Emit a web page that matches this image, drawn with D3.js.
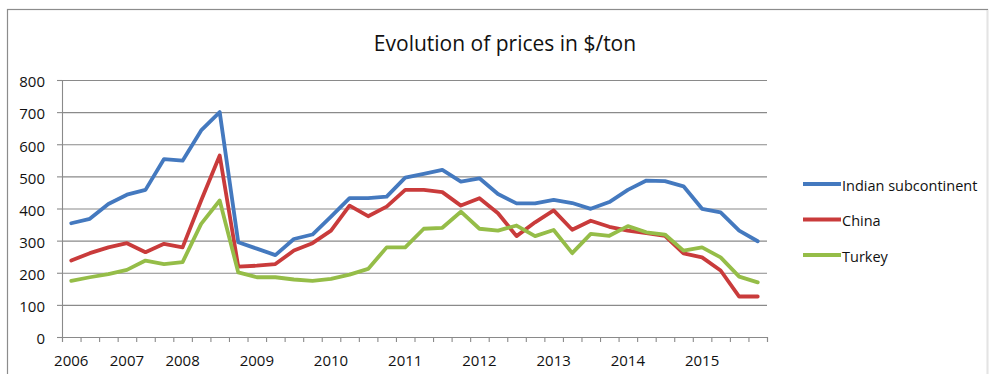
<!DOCTYPE html>
<html>
<head>
<meta charset="utf-8">
<script src="https://cdn.jsdelivr.net/npm/d3@7"></script>
<style>
  html, body { margin: 0; padding: 0; background: #fff; }
  svg { display: block; font-family: "Open Sans", "Noto Sans", sans-serif; }
</style>
</head>
<body>
<svg id="chart" width="990" height="374"></svg>
<script>
// Category axis: one entry per observation, year shown at the first point of each year
const categories = [
  "2006", "", "",
  "2007", "", "",
  "2008", "", "", "",
  "2009", "", "", "",
  "2010", "", "", "",
  "2011", "", "", "",
  "2012", "", "", "",
  "2013", "", "", "",
  "2014", "", "", "",
  "2015", "", "", ""
];

// Prices in $/ton
const indianSubcontinent = [354, 368, 414, 443, 458, 554, 549, 643, 700, 295, 275, 255, 305, 319, 375, 432, 432, 437, 496, 508, 520, 484, 494, 445, 416, 416, 427, 417, 399, 420, 458, 487, 485, 469, 399, 388, 331, 298];
const china = [238, 261, 279, 292, 264, 290, 279, 425, 565, 219, 222, 227, 269, 292, 331, 409, 376, 406, 458, 458, 451, 409, 432, 385, 314, 357, 394, 334, 362, 343, 331, 323, 315, 260, 248, 207, 126, 126];
const turkey = [175, 186, 196, 209, 238, 227, 233, 352, 425, 201, 186, 186, 179, 175, 181, 194, 212, 279, 279, 337, 340, 390, 337, 331, 347, 314, 333, 261, 321, 315, 345, 326, 319, 269, 279, 248, 188, 170];

const seriesNames = ["Indian subcontinent", "China", "Turkey"];
const yTicks = [0, 100, 200, 300, 400, 500, 600, 700, 800];
const title = "Evolution of prices in $/ton";

const series = [
  { name: seriesNames[0], values: indianSubcontinent, color: "#4479bf" },
  { name: seriesNames[1], values: china, color: "#c93b3b" },
  { name: seriesNames[2], values: turkey, color: "#95bd48" }
];

const svg = d3.select("#chart");
const plot = { left: 62, right: 767, top: 80, bottom: 337 };

// Outer chart frame
svg.append("rect")
  .attr("x", 7.5).attr("y", 9.5)
  .attr("width", 980).attr("height", 400)
  .attr("fill", "none").attr("stroke", "#8c8c8c").attr("stroke-width", 1.2);
svg.append("line")
  .attr("x1", 987.5).attr("x2", 987.5).attr("y1", 10).attr("y2", 374)
  .attr("stroke", "#e4e4e4").attr("stroke-width", 1.5);

const idx = categories.map((_, i) => i);
const x = d3.scaleBand().domain(idx).range([plot.left, plot.right]).paddingInner(0).paddingOuter(0);
const xEdges = d3.scaleLinear().domain([0, categories.length]).range([plot.left, plot.right]);
const y = d3.scaleLinear().domain([0, 800]).range([plot.bottom, plot.top]);

// Horizontal gridlines with outward tick marks
const grid = svg.append("g")
  .attr("transform", `translate(${plot.left},0)`)
  .call(d3.axisLeft(y).tickValues(yTicks).tickSize(-(plot.right - plot.left)).tickFormat(""));
grid.select(".domain").remove();
grid.selectAll("line").attr("stroke", "#8a8a8a").attr("stroke-width", 1.1);

const yAxis = svg.append("g")
  .attr("transform", `translate(${plot.left},0)`)
  .call(d3.axisLeft(y).tickValues(yTicks).tickSize(5).tickPadding(12));
yAxis.select(".domain").attr("stroke", "#8a8a8a").attr("stroke-width", 1.1);
yAxis.selectAll("line").attr("stroke", "#8a8a8a").attr("stroke-width", 1.1);
yAxis.selectAll("text")
  .attr("font-size", 15).attr("fill", "#111")
  .attr("font-family", "'Open Sans', sans-serif")
  .attr("dy", "0.45em");

// Category tick marks between observations
const xTickAxis = svg.append("g")
  .attr("transform", `translate(0,${plot.bottom})`)
  .call(d3.axisBottom(xEdges).tickValues(d3.range(categories.length + 1)).tickSize(5).tickFormat(""));
xTickAxis.select(".domain").attr("stroke", "#8a8a8a").attr("stroke-width", 1.1);
xTickAxis.selectAll("line").attr("stroke", "#8a8a8a").attr("stroke-width", 1.1);

// Year labels under their first observation
const labelled = idx.filter(i => categories[i] !== "");
const xLabels = svg.append("g")
  .attr("transform", `translate(0,${plot.bottom})`)
  .call(d3.axisBottom(x).tickValues(labelled).tickSize(0).tickPadding(18).tickFormat(i => categories[i]));
xLabels.select(".domain").remove();
xLabels.selectAll("text")
  .attr("font-size", 15).attr("fill", "#111")
  .attr("font-family", "'Open Sans', sans-serif");

// Series lines
const line = d3.line()
  .x((d, i) => x(i) + x.bandwidth() / 2)
  .y(d => y(d));

svg.append("g").selectAll("path")
  .data(series)
  .join("path")
  .attr("d", s => line(s.values))
  .attr("fill", "none")
  .attr("stroke", s => s.color)
  .attr("stroke-width", 3.8)
  .attr("stroke-linejoin", "round")
  .attr("stroke-linecap", "round");

// Title
svg.append("text")
  .attr("x", 505).attr("y", 51)
  .attr("text-anchor", "middle")
  .attr("font-size", 21)
  .attr("fill", "#111")
  .text(title);

// Legend
const legend = svg.append("g").selectAll("g")
  .data(series)
  .join("g")
  .attr("transform", (s, i) => `translate(803,${184 + i * 35.5})`);
legend.append("line")
  .attr("x1", 0).attr("x2", 38)
  .attr("stroke", s => s.color).attr("stroke-width", 3.8);
legend.append("text")
  .attr("x", 39).attr("y", 3)
  .attr("dominant-baseline", "middle")
  .attr("font-size", 14.5)
  .attr("fill", "#111")
  .text(s => s.name);
</script>
</body>
</html>
